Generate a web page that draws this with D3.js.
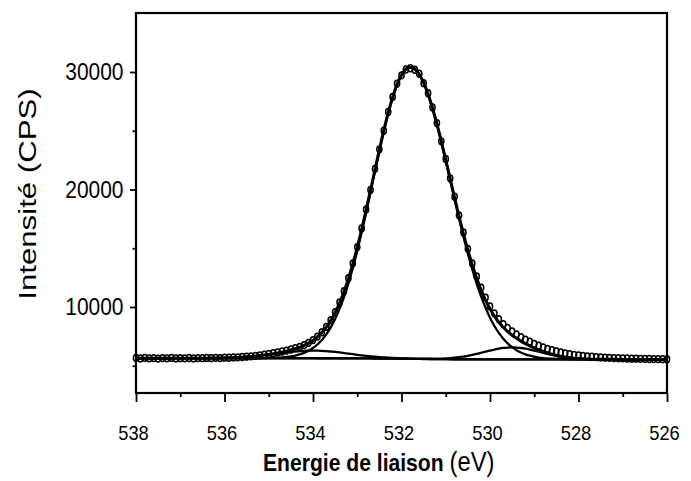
<!DOCTYPE html>
<html>
<head>
<meta charset="utf-8">
<script src="https://cdn.jsdelivr.net/npm/d3@7"></script>
<style>
  body { margin: 0; background: #fff; }
  text { font-family: "Liberation Sans", Arial, sans-serif; fill: #000; }
</style>
</head>
<body>
<script>

// binding energy grid (eV)
var energy = [
  538.0,537.9,537.8,537.7,537.6,537.5,537.4,537.3,537.2,537.1,
  537.0,536.9,536.8,536.7,536.6,536.5,536.4,536.3,536.2,536.1,
  536.0,535.9,535.8,535.7,535.6,535.5,535.4,535.3,535.2,535.1,
  535.0,534.9,534.8,534.7,534.6,534.5,534.4,534.3,534.2,534.1,
  534.0,533.9,533.8,533.7,533.6,533.5,533.4,533.3,533.2,533.1,
  533.0,532.9,532.8,532.7,532.6,532.5,532.4,532.3,532.2,532.1,
  532.0,531.9,531.8,531.7,531.6,531.5,531.4,531.3,531.2,531.1,
  531.0,530.9,530.8,530.7,530.6,530.5,530.4,530.3,530.2,530.1,
  530.0,529.9,529.8,529.7,529.6,529.5,529.4,529.3,529.2,529.1,
  529.0,528.9,528.8,528.7,528.6,528.5,528.4,528.3,528.2,528.1,
  528.0,527.9,527.8,527.7,527.6,527.5,527.4,527.3,527.2,527.1,
  527.0,526.9,526.8,526.7,526.6,526.5,526.4,526.3,526.2,526.1,
  526.0
];

// measured spectrum (CPS)
var counts = [
  5660,5625,5670,5635,5655,5610,5650,5630,5665,5620,
  5645,5630,5660,5625,5650,5640,5665,5645,5670,5655,
  5690,5680,5705,5720,5745,5770,5800,5840,5890,5940,
  6000,6065,6130,6210,6290,6380,6490,6610,6760,6950,
  7180,7480,7850,8300,8880,9560,10400,11350,12450,13720,
  15100,16690,18300,19960,21760,23420,25000,26600,27880,29010,
  29720,30210,30320,30190,29850,29050,28200,26980,25650,24100,
  22600,20950,19380,17800,16340,14950,13700,12600,11650,10800,
  10050,9450,8960,8550,8210,7920,7670,7440,7230,7040,
  6860,6700,6560,6430,6320,6220,6130,6060,5990,5930,
  5880,5840,5800,5770,5740,5710,5690,5670,5655,5640,
  5630,5615,5605,5600,5590,5585,5575,5570,5565,5560,
  5555
];

// background
var baseline = [
  5640,5640,5640,5640,5640,5640,5640,5640,5640,5640,
  5640,5640,5640,5640,5640,5640,5640,5640,5640,5640,
  5640,5640,5640,5640,5640,5640,5640,5640,5640,5640,
  5640,5640,5640,5640,5640,5640,5640,5640,5640,5640,
  5640,5639,5639,5639,5638,5637,5636,5635,5634,5633,
  5631,5629,5627,5624,5621,5618,5615,5611,5607,5603,
  5599,5594,5590,5586,5581,5577,5573,5569,5565,5562,
  5559,5556,5553,5551,5549,5547,5546,5545,5544,5543,
  5542,5541,5541,5541,5540,5540,5540,5540,5540,5540,
  5540,5540,5540,5540,5540,5540,5540,5540,5540,5540,
  5540,5540,5540,5540,5540,5540,5540,5540,5540,5540,
  5540,5540,5540,5540,5540,5540,5540,5540,5540,5540,
  5540
];

// fitted components, above background
var peakMain = [
  0,0,0,0,0,0,0,0,0,0,
  0,0,0,0,0,0,0,0,0,0,
  0,0,0,0,1,2,3,5,8,13,
  21,32,50,72,109,159,228,325,459,635,
  866,1168,1550,2031,2626,3348,4209,5215,6376,7688,
  9144,10724,12400,14148,15917,17660,19324,20854,22196,23300,
  24123,24629,24800,24651,24212,23496,22531,21345,19981,18483,
  16891,15254,13610,11998,10453,8997,7651,6428,5339,4380,
  3549,2842,2249,1758,1359,1037,784,583,429,312,
  225,159,112,77,53,36,24,16,10,7,
  4,3,2,1,0,0,0,0,0,0,
  0,0,0,0,0,0,0,0,0,0,
  0
];

var peakHigh = [
  0,0,0,0,0,0,0,0,0,0,
  1,1,2,2,4,5,8,11,16,22,
  30,41,54,71,91,115,144,178,215,257,
  302,349,398,446,493,536,575,607,630,645,
  650,645,630,607,575,536,493,446,398,349,
  302,257,215,178,144,115,91,71,54,41,
  30,22,16,11,8,5,4,2,2,1,
  1,0,0,0,0,0,0,0,0,0,
  0,0,0,0,0,0,0,0,0,0,
  0,0,0,0,0,0,0,0,0,0,
  0,0,0,0,0,0,0,0,0,0,
  0,0,0,0,0,0,0,0,0,0,
  0
];

var peakLow = [
  0,0,0,0,0,0,0,0,0,0,
  0,0,0,0,0,0,0,0,0,0,
  0,0,0,0,0,0,0,0,0,0,
  0,0,0,0,0,0,0,0,0,0,
  0,0,0,0,0,0,0,0,0,0,
  0,0,0,0,0,0,0,0,0,0,
  0,1,2,3,4,7,12,19,29,43,
  64,91,128,173,230,297,376,464,558,655,
  750,837,913,971,1008,1020,1008,971,913,837,
  750,655,558,464,376,297,230,173,128,91,
  64,43,29,19,12,7,4,3,2,1,
  0,0,0,0,0,0,0,0,0,0,
  0
];

var xTicks = [538, 536, 534, 532, 530, 528, 526];
var xMinor = [537, 535, 533, 531, 529, 527];
var yTicks = [10000, 20000, 30000];
var yMinor = [5000, 15000, 25000];

var svg = d3.select('body').append('svg')
  .attr('width', 691)
  .attr('height', 481);

var x = d3.scaleLinear().domain([538, 526]).range([136, 667]);
var y = d3.scaleLinear().domain([2680, 35020]).range([393, 13]);

// axes
var gx = svg.append('g').attr('transform', 'translate(0,393)')
  .call(d3.axisBottom(x).tickValues(xTicks).tickSize(9).tickFormat(d3.format('d')));
var gxm = svg.append('g').attr('transform', 'translate(0,393)')
  .call(d3.axisBottom(x).tickValues(xMinor).tickSize(4).tickFormat(''));
var gy = svg.append('g').attr('transform', 'translate(136,0)')
  .call(d3.axisLeft(y).tickValues(yTicks).tickSize(6).tickFormat(d3.format('d')));
var gym = svg.append('g').attr('transform', 'translate(136,0)')
  .call(d3.axisLeft(y).tickValues(yMinor).tickSize(3.5).tickFormat(''));

[gx, gxm, gy, gym].forEach(function (g) {
  g.select('.domain').remove();
  g.selectAll('line').attr('stroke', '#000').attr('stroke-width', 1.8);
  g.attr('font-family', null).attr('font-size', null);
});

gx.selectAll('text')
  .attr('y', 0).attr('dy', 0)
  .attr('font-size', 21)
  .attr('transform', 'translate(-3,47) scale(0.87,1)');

gy.selectAll('text')
  .attr('x', 0).attr('dy', 0)
  .attr('font-size', 23)
  .attr('text-anchor', 'end')
  .attr('transform', 'translate(-12.5,8) scale(0.91,1)');

// frame
svg.append('rect')
  .attr('x', x(538)).attr('y', y(35020))
  .attr('width', x(526) - x(538)).attr('height', y(2680) - y(35020))
  .attr('fill', 'none').attr('stroke', '#000').attr('stroke-width', 2.2);

// curves
var idx = d3.range(energy.length);
function curve(vals, w) {
  var line = d3.line()
    .x(function (i) { return x(energy[i]); })
    .y(function (i) { return y(vals[i]); })
    .curve(d3.curveMonotoneX);
  svg.append('path').datum(idx)
    .attr('d', line)
    .attr('fill', 'none')
    .attr('stroke', '#000')
    .attr('stroke-width', w)
    .attr('stroke-linejoin', 'round');
}

curve(baseline, 2.4);
curve(idx.map(function (i) { return baseline[i] + peakHigh[i]; }), 2.3);
curve(idx.map(function (i) { return baseline[i] + peakLow[i]; }), 2.3);
curve(idx.map(function (i) { return baseline[i] + peakMain[i]; }), 2.3);
curve(idx.map(function (i) {
  return baseline[i] + peakMain[i] + peakHigh[i] + peakLow[i];
}), 3);

// data points
svg.append('g').selectAll('ellipse')
  .data(idx)
  .enter()
  .append('ellipse')
  .attr('cx', function (i) { return x(energy[i]); })
  .attr('cy', function (i) { return y(counts[i]); })
  .attr('rx', 2.6)
  .attr('ry', 3.4)
  .attr('fill', 'none')
  .attr('stroke', '#000')
  .attr('stroke-width', 1.5);

// titles
var tx = svg.append('text')
  .attr('transform', 'translate(263,471) scale(0.88,1)');
tx.append('tspan').attr('font-size', 24).attr('font-weight', 'bold').text('Energie de liaison ');
tx.append('tspan').attr('font-size', 27).text('(eV)');

svg.append('text')
  .attr('transform', 'translate(35.5,194) rotate(-90) scale(1.3,1)')
  .attr('text-anchor', 'middle')
  .attr('font-size', 24)
  .text('Intensité  (CPS)');

</script>
</body>
</html>
